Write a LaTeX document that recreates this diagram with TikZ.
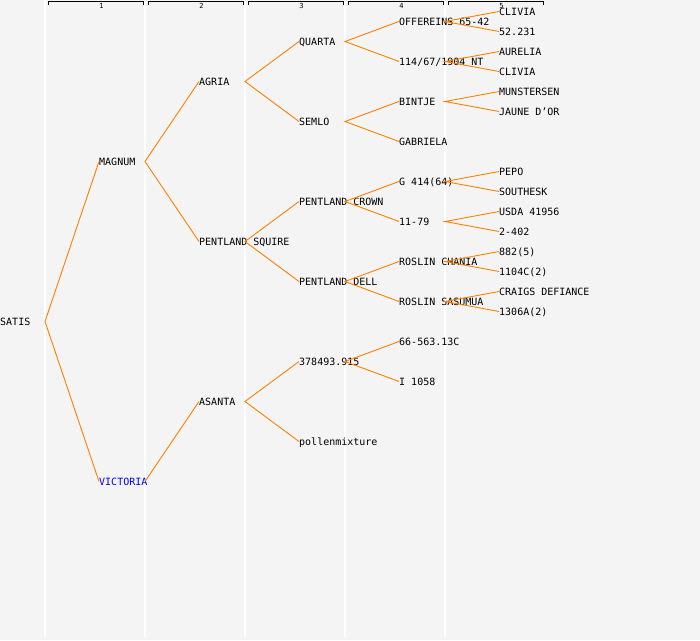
\documentclass[tikz,border=0pt]{standalone}
\usepackage{fontspec}
\setmonofont{DejaVu Sans Mono}
\definecolor{panel}{HTML}{F4F4F4}
\definecolor{branch}{HTML}{FF8000}
\definecolor{parentblue}{HTML}{0000FF}
\tikzset{
  cv/.style={anchor=west,inner sep=0pt,text height=7.5pt,text depth=0pt,font=\ttfamily\fontsize{10}{12}\selectfont},
  link/.style={branch,line width=0.9pt},
  gen/.style={inner sep=0pt,font=\ttfamily\fontsize{7}{8}\selectfont},
  rule/.style={white,line width=1.3pt}
}

\begin{document}
\begin{tikzpicture}[x=1pt,y=-1pt]
\fill[panel] (0,0) rectangle (700,640);
\useasboundingbox (0,0) rectangle (700,640);
% column rules
\draw[rule] (45,0)--(45,637) (145,0)--(145,637) (245,0)--(245,637)
(345,0)--(345,637) (445,0)--(445,637);
\coordinate (c1) at (45,0);
\coordinate (c2) at (145,0);
\coordinate (c3) at (245,0);
\coordinate (c4) at (345,0);
\coordinate (c5) at (445,0);
% generation brackets
\draw[line width=0.9pt] (48,4.5)--(48,1.5)--(143,1.5)--(143,4.5)
(148,4.5)--(148,1.5)--(243,1.5)--(243,4.5)
(248,4.5)--(248,1.5)--(343,1.5)--(343,4.5)
(348,4.5)--(348,1.5)--(443,1.5)--(443,4.5)
(448,4.5)--(448,1.5)--(543,1.5)--(543,4.5);
\node[gen] (g1) at (101.5,6) {1};
\node[gen] (g2) at (201.5,6) {2};
\node[gen] (g3) at (301.5,6) {3};
\node[gen] (g4) at (401.5,6) {4};
\node[gen] (g5) at (501.5,6) {5};
% cultivars
\node[cv] (satis) at (0,321.5) {SATIS};
\node[cv] (magnum) at (99,161.5) {MAGNUM};
\node[cv,text=parentblue] (victoria) at (99,481.5) {VICTORIA};
\node[cv] (agria) at (199,81.5) {AGRIA};
\node[cv] (squire) at (199,241.5) {PENTLAND SQUIRE};
\node[cv] (asanta) at (199,401.5) {ASANTA};
\node[cv] (quarta) at (299,41.5) {QUARTA};
\node[cv] (semlo) at (299,121.5) {SEMLO};
\node[cv] (crown) at (299,201.5) {PENTLAND CROWN};
\node[cv] (dell) at (299,281.5) {PENTLAND DELL};
\node[cv] (n378) at (299,361.5) {378493.915};
\node[cv] (pollen) at (299,441.5) {pollenmixture};
\node[cv] (offer) at (399,21.5) {OFFEREINS 65-42};
\node[cv] (n114) at (399,61.5) {114/67/1904 NT};
\node[cv] (bintje) at (399,101.5) {BINTJE};
\node[cv] (gabriela) at (399,141.5) {GABRIELA};
\node[cv] (g414) at (399,181.5) {G 414(64)};
\node[cv] (n1179) at (399,221.5) {11-79};
\node[cv] (chania) at (399,261.5) {ROSLIN CHANIA};
\node[cv] (sasumua) at (399,301.5) {ROSLIN SASUMUA};
\node[cv] (n66) at (399,341.5) {66-563.13C};
\node[cv] (i1058) at (399,381.5) {I 1058};
\node[cv] (clivia) at (499,11.5) {CLIVIA};
\node[cv] (n52) at (499,31.5) {52.231};
\node[cv] (aurelia) at (499,51.5) {AURELIA};
\node[cv] (cliviab) at (499,71.5) {CLIVIA};
\node[cv] (munster) at (499,91.5) {MUNSTERSEN};
\node[cv] (jaune) at (499,111.5) {JAUNE D’OR};
\node[cv] (pepo) at (499,171.5) {PEPO};
\node[cv] (southesk) at (499,191.5) {SOUTHESK};
\node[cv] (usda) at (499,211.5) {USDA 41956};
\node[cv] (n2402) at (499,231.5) {2-402};
\node[cv] (n882) at (499,251.5) {882(5)};
\node[cv] (n1104) at (499,271.5) {1104C(2)};
\node[cv] (craigs) at (499,291.5) {CRAIGS DEFIANCE};
\node[cv] (n1306) at (499,311.5) {1306A(2)};
% parent links
\draw[link] (magnum.west) -- (satis -| c1) -- (victoria.west);
\draw[link] (agria.west) -- (magnum -| c2) -- (squire.west);
\draw[link] (asanta.west) -- (victoria -| c2);
\draw[link] (quarta.west) -- (agria -| c3) -- (semlo.west);
\draw[link] (crown.west) -- (squire -| c3) -- (dell.west);
\draw[link] (n378.west) -- (asanta -| c3) -- (pollen.west);
\draw[link] (offer.west) -- (quarta -| c4) -- (n114.west);
\draw[link] (bintje.west) -- (semlo -| c4) -- (gabriela.west);
\draw[link] (g414.west) -- (crown -| c4) -- (n1179.west);
\draw[link] (chania.west) -- (dell -| c4) -- (sasumua.west);
\draw[link] (n66.west) -- (n378 -| c4) -- (i1058.west);
\draw[link] (clivia.west) -- (offer -| c5) -- (n52.west);
\draw[link] (aurelia.west) -- (n114 -| c5) -- (cliviab.west);
\draw[link] (munster.west) -- (bintje -| c5) -- (jaune.west);
\draw[link] (pepo.west) -- (g414 -| c5) -- (southesk.west);
\draw[link] (usda.west) -- (n1179 -| c5) -- (n2402.west);
\draw[link] (n882.west) -- (chania -| c5) -- (n1104.west);
\draw[link] (craigs.west) -- (sasumua -| c5) -- (n1306.west);
\end{tikzpicture}
\end{document}
